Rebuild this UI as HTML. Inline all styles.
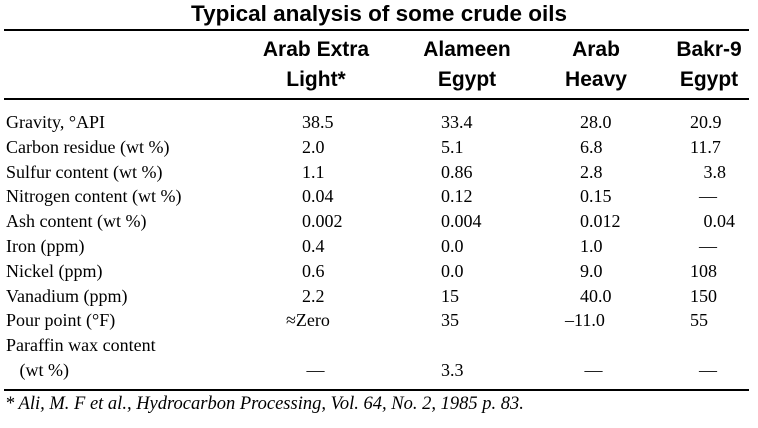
<!DOCTYPE html>
<html><head><style>
body{margin:0;width:758px;height:428px;background:#fff;position:relative;overflow:hidden;color:#000}
div{position:absolute;white-space:nowrap}
.t{font-family:"Liberation Serif",serif;font-size:18px;line-height:20px}
.h{font-family:"Liberation Sans",sans-serif;font-weight:bold;font-size:21px;line-height:30px;text-align:center;width:160px}
.ln{height:2px;background:#000;left:4px;width:745px}
</style></head><body>
<div style="left:0;width:758px;top:0;text-align:center;font-family:'Liberation Sans',sans-serif;font-weight:bold;font-size:22.5px;line-height:28px">Typical analysis of some crude oils</div>
<div class="ln" style="top:29px"></div>
<div class="h" style="left:236px;top:35px">Arab Extra<br>Light*</div>
<div class="h" style="left:387px;top:35px">Alameen<br>Egypt</div>
<div class="h" style="left:516px;top:35px">Arab<br>Heavy</div>
<div class="h" style="left:629px;top:35px">Bakr-9<br>Egypt</div>
<div class="ln" style="top:98px"></div>
<div class="t" style="left:6px;top:110px;line-height:24.8px">Gravity, °API<br>Carbon residue (wt %)<br>Sulfur content (wt %)<br>Nitrogen content (wt %)<br>Ash content (wt %)<br>Iron (ppm)<br>Nickel (ppm)<br>Vanadium (ppm)<br>Pour point (°F)<br>Paraffin wax content<br>&nbsp;&nbsp;&nbsp;(wt %)</div>
<div class="t" style="left:302px;top:110px;line-height:24.8px">38.5<br>2.0<br>1.1<br>0.04<br>0.002<br>0.4<br>0.6<br>2.2<br><span style="margin-left:-16px">≈Zero</span><br><br>&nbsp;—</div>
<div class="t" style="left:441px;top:110px;line-height:24.8px">33.4<br>5.1<br>0.86<br>0.12<br>0.004<br>0.0<br>0.0<br>15<br>35<br><br>3.3</div>
<div class="t" style="left:580px;top:110px;line-height:24.8px">28.0<br>6.8<br>2.8<br>0.15<br>0.012<br>1.0<br>9.0<br>40.0<br><span style="margin-left:-15px">–11.0</span><br><br>&nbsp;—</div>
<div class="t" style="left:690px;top:110px;line-height:24.8px">20.9<br>11.7<br>&nbsp;&nbsp;&nbsp;3.8<br>&nbsp;&nbsp;—<br>&nbsp;&nbsp;&nbsp;0.04<br>&nbsp;&nbsp;—<br>108<br>150<br>55<br><br>&nbsp;&nbsp;—</div>
<div class="ln" style="top:389px"></div>
<div class="t" style="left:5px;top:394px;font-style:italic;font-size:18.5px">* Ali, M. F et al., Hydrocarbon Processing, Vol. 64, No. 2, 1985 p. 83.</div>
</body></html>
